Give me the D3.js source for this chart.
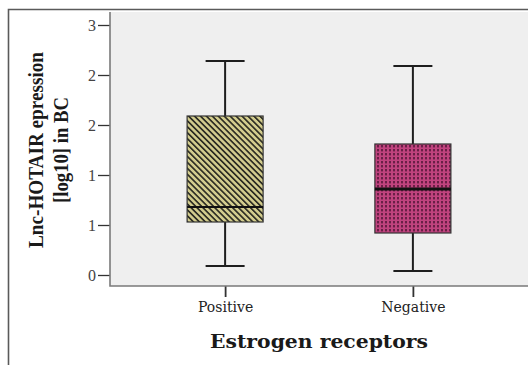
<!DOCTYPE html>
<html>
<head>
<meta charset="utf-8">
<script src="https://cdn.jsdelivr.net/npm/d3@7"></script>
<style>
  html, body { margin: 0; padding: 0; background: #fff; }
  svg { display: block; }
</style>
</head>
<body>
<svg id="chart"></svg>
<script>
  // Données
  var categories = ["Positive", "Negative"];
  var whiskerHigh = [2.14, 2.09];
  var q3 = [1.59, 1.31];
  var medians = [0.68, 0.86];
  var q1 = [0.53, 0.42];
  var whiskerLow = [0.09, 0.04];
  var tickValues = [0, 0.5, 1, 1.5, 2, 2.5];
  var tickLabels = ["0", "1", "1", "2", "2", "3"];

  var width = 528, height = 365;
  var plot = { left: 110, right: 528, top: 12, bottom: 286 };

  var svg = d3.select("#chart").attr("width", width).attr("height", height);

  /***** Motifs *****/
  var defs = svg.append("defs");
  var hatch = defs.append("pattern")
    .attr("id", "hatch")
    .attr("patternUnits", "userSpaceOnUse")
    .attr("width", 4.2).attr("height", 10)
    .attr("patternTransform", "rotate(-45)");
  hatch.append("rect").attr("width", 4.2).attr("height", 10).attr("fill", "#d3cd8e");
  hatch.append("rect").attr("width", 1.7).attr("height", 10).attr("fill", "#2e2e24");

  var dots = defs.append("pattern")
    .attr("id", "dots")
    .attr("patternUnits", "userSpaceOnUse")
    .attr("width", 4).attr("height", 4);
  dots.append("rect").attr("width", 4).attr("height", 4).attr("fill", "#c0437e");
  dots.append("rect").attr("x", 1).attr("y", 1).attr("width", 2).attr("height", 2.4).attr("fill", "#6a1f46");

  var fills = ["url(#hatch)", "url(#dots)"];
  var medianWidths = [2, 3];

  /***** Cadre *****/
  svg.append("path")
    .attr("d", "M8.5," + height + "V9.5H" + width)
    .attr("fill", "none")
    .attr("stroke", "#5a5a5a")
    .attr("stroke-width", 1.6);

  svg.append("rect")
    .attr("x", plot.left).attr("y", plot.top)
    .attr("width", plot.right - plot.left).attr("height", plot.bottom - plot.top)
    .attr("fill", "#efefef");

  /***** Échelles *****/
  var y = d3.scaleLinear().domain([-0.11, 2.63]).range([plot.bottom, plot.top]);
  var x = d3.scalePoint().domain(categories).range([plot.left, plot.right]).padding(0.613);

  var yAxis = d3.axisLeft(y)
    .tickValues(tickValues)
    .tickSize(12)
    .tickPadding(2)
    .tickFormat(function (d, i) { return tickLabels[i]; });

  var xAxis = d3.axisBottom(x).tickSize(11).tickPadding(5);

  var yg = svg.append("g")
    .attr("transform", "translate(" + plot.left + ",0)")
    .call(yAxis);
  yg.select(".domain").remove();
  yg.selectAll(".tick line").attr("stroke", "#333").attr("stroke-width", 1.3);
  yg.selectAll(".tick text")
    .attr("font-family", "Liberation Serif, serif")
    .attr("font-size", 16)
    .attr("fill", "#444");

  var xg = svg.append("g")
    .attr("transform", "translate(0," + plot.bottom + ")")
    .call(xAxis);
  xg.select(".domain").remove();
  xg.selectAll(".tick line").attr("stroke", "#333").attr("stroke-width", 1.8);
  xg.selectAll(".tick text")
    .attr("font-family", "DejaVu Serif, serif")
    .attr("font-size", 14)
    .attr("fill", "#222");

  // bordure gauche et bas de la zone de tracé
  svg.append("path")
    .attr("d", "M" + plot.left + "," + plot.top + "V" + plot.bottom + "H" + plot.right)
    .attr("fill", "none")
    .attr("stroke", "#7a7a7a")
    .attr("stroke-width", 1.6);

  /***** Boîtes *****/
  var boxWidth = 76, capWidth = 39;
  var boxes = svg.append("g").selectAll("g")
    .data(categories)
    .enter()
    .append("g");

  boxes.append("line")
    .attr("x1", function (d) { return x(d); })
    .attr("x2", function (d) { return x(d); })
    .attr("y1", function (d, i) { return y(whiskerHigh[i]); })
    .attr("y2", function (d, i) { return y(whiskerLow[i]); })
    .attr("stroke", "#1e1e1e").attr("stroke-width", 2);

  boxes.selectAll(".cap")
    .data(function (d, i) { return [[d, whiskerHigh[i]], [d, whiskerLow[i]]]; })
    .enter()
    .append("line")
    .attr("class", "cap")
    .attr("x1", function (p) { return x(p[0]) - capWidth / 2; })
    .attr("x2", function (p) { return x(p[0]) + capWidth / 2; })
    .attr("y1", function (p) { return y(p[1]); })
    .attr("y2", function (p) { return y(p[1]); })
    .attr("stroke", "#1e1e1e").attr("stroke-width", 2);

  boxes.append("rect")
    .attr("x", function (d) { return x(d) - boxWidth / 2; })
    .attr("y", function (d, i) { return y(q3[i]); })
    .attr("width", boxWidth)
    .attr("height", function (d, i) { return y(q1[i]) - y(q3[i]); })
    .attr("fill", function (d, i) { return fills[i]; })
    .attr("stroke", "#333").attr("stroke-width", 1.2);

  boxes.append("line")
    .attr("x1", function (d) { return x(d) - boxWidth / 2; })
    .attr("x2", function (d) { return x(d) + boxWidth / 2; })
    .attr("y1", function (d, i) { return y(medians[i]); })
    .attr("y2", function (d, i) { return y(medians[i]); })
    .attr("stroke", "#111")
    .attr("stroke-width", function (d, i) { return medianWidths[i]; });

  /***** Titres des axes *****/
  svg.append("text")
    .attr("x", (plot.left + plot.right) / 2)
    .attr("y", 348)
    .attr("text-anchor", "middle")
    .attr("font-family", "DejaVu Serif, serif")
    .attr("font-weight", "bold")
    .attr("font-size", 18)
    .attr("textLength", 218)
    .attr("lengthAdjust", "spacingAndGlyphs")
    .attr("fill", "#1a1a1a")
    .text("Estrogen receptors");

  var yTitle = svg.append("g")
    .attr("transform", "translate(0,150) rotate(-90)")
    .attr("font-family", "Liberation Serif, serif")
    .attr("font-weight", "bold")
    .attr("font-size", 21)
    .attr("fill", "#1a1a1a")
    .attr("text-anchor", "middle");

  yTitle.append("text")
    .attr("x", 0).attr("y", 43)
    .attr("textLength", 196)
    .attr("lengthAdjust", "spacingAndGlyphs")
    .text("Lnc-HOTAIR epression");

  yTitle.append("text")
    .attr("x", 0).attr("y", 68)
    .attr("textLength", 106)
    .attr("lengthAdjust", "spacingAndGlyphs")
    .text("[log10] in BC");
</script>
</body>
</html>
